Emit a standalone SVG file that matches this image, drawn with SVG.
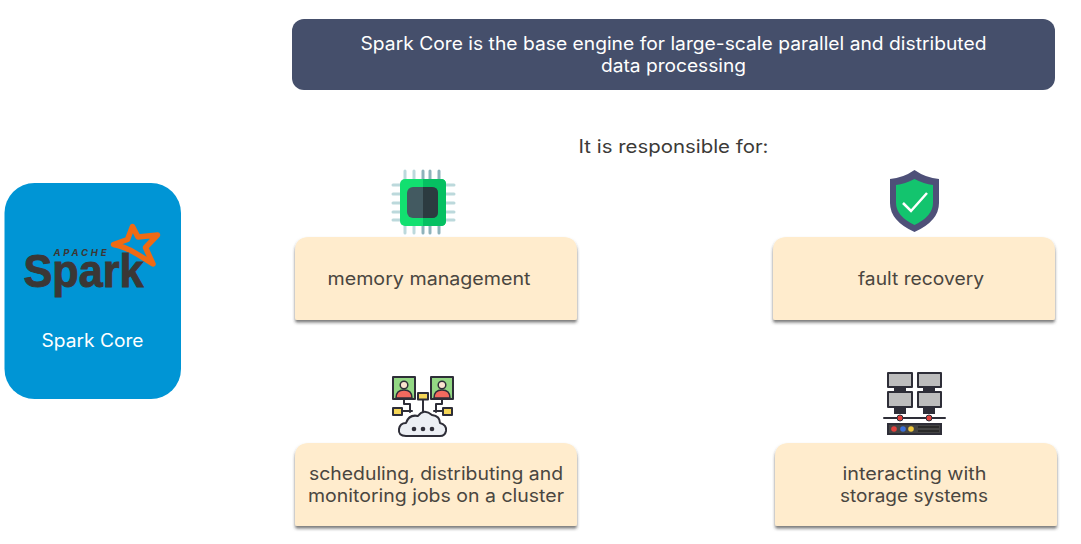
<svg xmlns="http://www.w3.org/2000/svg" width="1081" height="544" viewBox="0 0 1081 544">
<defs>
<filter id="sh" x="-5%" y="-10%" width="110%" height="125%"><feDropShadow dx="0" dy="2.500" stdDeviation="1.800" flood-color="#2f2f2f" flood-opacity="0.65"/></filter>
<path id="card" d="M14 0H268Q282 0 282 14V81Q282 83 280 83H2Q0 83 0 81V14Q0 0 14 0Z"/>
</defs>
<style>
text{font-family:"Inter","Open Sans","DejaVu Sans",sans-serif;text-anchor:middle;font-size:18px}
.card{fill:#ffeccd;filter:url(#sh)}
.lbl{fill:#4a4640}
.head{fill:#fff}
.out{fill:none;stroke:#2e2e38;stroke-width:2;stroke-linejoin:round;stroke-linecap:round}
.pin{stroke:#bcd9dc;stroke-width:3;stroke-linecap:round;fill:none}
.pin2{stroke:#8fb3bb;stroke-width:3;stroke-linecap:round;fill:none}
</style>
<rect width="1081" height="544" fill="#fff"/>
<g id="header">
<rect x="292" y="19" width="763" height="71" rx="12" fill="#454f6b"/>
<text class="head" x="673.500" y="49.500" textLength="626" lengthAdjust="spacingAndGlyphs">Spark Core is the base engine for large-scale parallel and distributed</text>
<text class="head" x="673.500" y="71.500" textLength="145" lengthAdjust="spacingAndGlyphs">data processing</text>
</g>
<g id="subtitle"><text class="lbl" x="673.500" y="153" textLength="190" lengthAdjust="spacingAndGlyphs" style="fill:#3c3a38">It is responsible for:</text></g>
<g id="spark-core">
<rect x="4.500" y="183" width="176.500" height="216" rx="30" fill="#0095d5"/>
<path d="M132.500 226.500 L138 237 L157.500 235 L145.500 247.500 L153 264 L137 254 Q125 246.500 113.500 244.500 L127.500 239.500 Z" fill="none" stroke="#f06a13" stroke-width="5.500" stroke-linejoin="round"/>
<text x="80" y="255.500" style="font-size:9.500px;font-weight:700;font-style:italic" fill="#3b3735" textLength="53">APACHE</text>
<text x="83.500" y="287" style="font-size:47px;font-weight:700;font-family:'Liberation Sans',sans-serif;stroke:#3b3735;stroke-width:1" fill="#3b3735" textLength="120" lengthAdjust="spacingAndGlyphs">Spark</text>
<text class="head" x="92.500" y="346.500" textLength="102" lengthAdjust="spacingAndGlyphs">Spark Core</text>
</g>
<g id="memory-management">
<use href="#card" class="card" x="295" y="237"/>
<text class="lbl" x="429" y="285" textLength="203" lengthAdjust="spacingAndGlyphs">memory management</text>
<g id="chip-icon">
<path class="pin" d="M405 171V233M414 171V233M393 185H400M393 194H400M393 203H400M393 212H400M393 220H400"/>
<path class="pin2" d="M423 171V233M430 171V233M439 171V233"/>
<path class="pin" d="M445 185H454M445 194H454M445 203H454M445 212H454M445 220H454"/>
<rect x="400" y="179" width="46" height="47" rx="5" fill="#12e070"/>
<path d="M423 179H441Q446 179 446 184V221Q446 226 441 226H423Z" fill="#06c062"/>
<rect x="407" y="187" width="31" height="31" rx="6" fill="#435a61"/>
<path d="M423 187H432Q438 187 438 193V212Q438 218 432 218H423Z" fill="#2c3b40"/>
</g>
</g>
<g id="fault-recovery">
<use href="#card" class="card" x="773" y="237"/>
<text class="lbl" x="921" y="285" textLength="126" lengthAdjust="spacingAndGlyphs">fault recovery</text>
<g id="shield-icon">
<path d="M914.500 170 Q926 178 939 179 V203 Q939 221 914.500 232 Q890 221 890 203 V179 Q903 178 914.500 170Z" fill="#4e5078"/>
<path d="M914.500 179 Q924 184 933 185 V203 Q933 216 914.500 225 Q896 216 896 203 V185 Q905 184 914.500 179Z" fill="#13c46e"/>
<path d="M903 203 L911 211 L927 193" fill="none" stroke="#fff" stroke-width="2.500"/>
</g>
</g>
<g id="scheduling">
<use href="#card" class="card" x="295" y="443"/>
<text class="lbl" x="436" y="479.500" textLength="254" lengthAdjust="spacingAndGlyphs">scheduling, distributing and</text>
<text class="lbl" x="436" y="501.500" textLength="256" lengthAdjust="spacingAndGlyphs">monitoring jobs on a cluster</text>
<g id="cluster-icon">
<path class="out" d="M404 398V404H410V412M442 398V404H436V412M402 411H412M444 411H434M423 398V412"/>
<rect class="out" x="393" y="377" width="22" height="22" style="fill:#93d884"/>
<rect class="out" x="431" y="377" width="22" height="22" style="fill:#93d884"/>
<path d="M396 398 Q396 390 404 390 Q412 390 412 398Z M434 398 Q434 390 442 390 Q450 390 450 398Z" fill="#f26a5f" stroke="#2e2e38" stroke-width="1.500"/>
<circle class="out" cx="404" cy="385" r="3.800" style="fill:#fbe3cf;stroke-width:1.500"/>
<circle class="out" cx="442" cy="385" r="3.800" style="fill:#fbe3cf;stroke-width:1.500"/>
<rect class="out" x="418" y="393" width="10" height="6.500" style="fill:#f5d657"/>
<rect class="out" x="393" y="408" width="9" height="7" style="fill:#f5d657"/>
<rect class="out" x="443" y="408" width="9" height="7" style="fill:#f5d657"/>
<path class="out" d="M406 436 Q398 436 399 429 Q400 423 406 423 Q409 414 418 416 Q424 408 432 415 Q440 416 440 423 Q447 425 446 431 Q445 436 440 436Z" style="fill:#eceff4"/>
<circle cx="414" cy="429" r="2.300" fill="#2e2e38"/><circle cx="423" cy="429" r="2.300" fill="#2e2e38"/><circle cx="432" cy="429" r="2.300" fill="#2e2e38"/>
</g>
</g>
<g id="storage-systems">
<use href="#card" class="card" x="775" y="443"/>
<text class="lbl" x="914.500" y="479.500" textLength="144" lengthAdjust="spacingAndGlyphs">interacting with</text>
<text class="lbl" x="914" y="501.500" textLength="148" lengthAdjust="spacingAndGlyphs">storage systems</text>
<g id="storage-icon">
<path d="M894 387h12v5h-12zM923 387h12v5h-12zM894 407h12v7h-12zM923 407h12v7h-12z" fill="#2e2e38"/>
<rect class="out" x="888" y="373" width="24" height="14" style="fill:#bdbdbd"/>
<rect class="out" x="918" y="373" width="23" height="14" style="fill:#bdbdbd"/>
<rect class="out" x="888" y="392" width="24" height="15" style="fill:#bdbdbd"/>
<rect class="out" x="918" y="392" width="23" height="15" style="fill:#bdbdbd"/>
<path class="out" d="M884 418H945"/>
<circle cx="900" cy="418" r="3" fill="#e2413d" stroke="#2e2e38"/>
<circle cx="929" cy="418" r="3" fill="#e2413d" stroke="#2e2e38"/>
<rect x="888" y="424" width="53" height="10" fill="#444" stroke="#2e2e38" stroke-width="2"/>
<circle cx="894" cy="429" r="2.800" fill="#e2413d"/><circle cx="903" cy="429" r="2.800" fill="#3b6fd8"/><circle cx="911" cy="429" r="2.800" fill="#eec73c"/>
<path d="M918 427H939M918 431H939" stroke="#222" stroke-width="1.500"/>
</g>
</g>
<g id="connectors"></g>
</svg>
